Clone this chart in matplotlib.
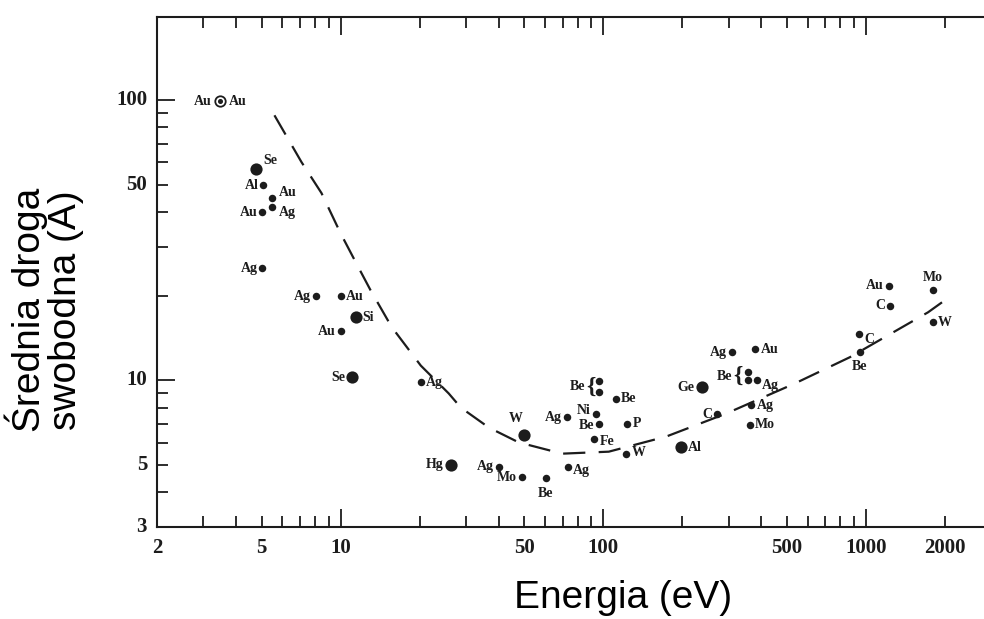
import matplotlib
matplotlib.use("Agg")
import matplotlib.pyplot as plt
from matplotlib.ticker import NullFormatter

# --- dane (energia w eV, droga swobodna w A) ---
small_elem = ["Al", "Au", "Ag", "Au", "Ag", "Ag", "Au", "Au", "Ag", "Ag",
              "Mo", "Be", "Ag", "Ag", "Ni", "Be", "Fe", "P", "Be", "Be",
              "Be", "W", "Ag", "Au", "Be", "Be", "Ag", "Ag", "Mo", "C",
              "C", "Be", "Au", "C", "Mo", "W"]
small_energy = [5.08, 5.46, 5.46, 5.04, 5.04, 8.03, 10.0, 10.0, 20.2, 40.1,
                49.1, 60.5, 73.5, 72.9, 94.0, 96.6, 92.5, 123.6, 112.0, 96.6,
                96.6, 122.6, 310.0, 380.0, 357.0, 357.0, 384.0, 367.0, 362.0, 272.0,
                940.0, 950.0, 1225.0, 1235.0, 1803.0, 1803.0]
small_mfp = [49.7, 44.7, 41.5, 39.8, 25.1, 20.0, 20.0, 15.0, 9.84, 4.93,
             4.51, 4.48, 4.93, 7.38, 7.62, 7.0, 6.16, 7.0, 8.62, 9.92,
             9.06, 5.48, 12.6, 12.9, 10.7, 10.0, 10.0, 8.15, 6.96, 7.56,
             14.7, 12.6, 21.8, 18.5, 21.0, 16.1]

big_elem = ["Se", "Si", "Se", "Hg", "W", "Ge", "Al"]
big_energy = [4.78, 11.4, 11.1, 26.3, 49.9, 237.0, 197.0]
big_mfp = [57.0, 16.8, 10.25, 5.0, 6.37, 9.44, 5.77]

ring_energy = [3.48]
ring_mfp = [99.0]

curve_energy = [5.6, 7.10, 8.46, 10.0, 11.7, 13.0, 15.66, 20.2, 25.8, 28.7,
                36.7, 47.7, 69.8, 105, 174, 294, 536, 869, 1725, 1950]
curve_mfp = [88.3, 60.1, 46.6, 33.5, 25.3, 21.0, 15.5, 11.3, 8.99, 8.0,
             6.79, 6.01, 5.48, 5.57, 6.31, 7.62, 9.75, 12.1, 17.5, 19.0]

x_tick_labels = {2: "2", 5: "5", 10: "10", 50: "50", 100: "100",
                 500: "500", 1000: "1000", 2000: "2000"}
y_tick_labels = {3: "3", 5: "5", 10: "10", 50: "50", 100: "100"}

# przesunięcia etykiet w pikselach (dx, dy, ha); None = brak etykiety
L, R = (-5, 0, "right"), (5, 0, "left")
small_off = [L, (7, 6, "left"), (7, -5, "left"), L, L, L, R, L, R, L,
             L, (0, -15, "center"), (5, -4, "left"), L, (-5, 3, "right"),
             (-5, -2, "right"), (5, -2, "left"), R, R, None,
             None, (5, 1, "left"), L, R, None, None, (5, -5, "left"), R, R, L,
             (6, -6, "left"), (0, -14, "center"), L, L, (0, 13, "center"), R]
big_off = [(7, 8, "left"), (7, 0, "left"), (-7, 0, "right"), (-7, 0, "right"),
           (-8, 17, "center"), (-7, 0, "right"), (7, 0, "left")]

ink = "#1c1c1c"
serif = ["Liberation Serif", "DejaVu Serif"]
px = 0.72  # piksel -> punkt przy dpi=100

fig = plt.figure(figsize=(9.84, 6.19), dpi=100)
ax = fig.add_axes([157 / 984, 92 / 619, 827 / 984, 510 / 619])
ax.set_xscale("log")
ax.set_yscale("log")
ax.set_xlim(2, 2818)
ax.set_ylim(3, 198)

# krzywa uniwersalna
ax.plot(curve_energy, curve_mfp, color=ink, lw=1.6, linestyle=(0, (10, 6)))

ax.plot(small_energy, small_mfp, "o", color=ink, ms=5.4, mec="none")
ax.plot(big_energy, big_mfp, "o", color=ink, ms=8.8, mec="none")
ax.plot(ring_energy, ring_mfp, "o", mfc="white", mec=ink, mew=1.3, ms=7.5)
ax.plot(ring_energy, ring_mfp, "o", color=ink, ms=2.6)


def label(text, x, y, off, size=10):
    if off is None:
        return
    dx, dy, ha = off
    ax.annotate(text, (x, y), xytext=(dx * px, dy * px), textcoords="offset points",
                ha=ha, va="center", fontsize=size, family=serif,
                fontweight="bold", color=ink)


for e, x, y, o in zip(small_elem, small_energy, small_mfp, small_off):
    label(e, x, y, o)
for e, x, y, o in zip(big_elem, big_energy, big_mfp, big_off):
    label(e, x, y, o)
label("Au", ring_energy[0], ring_mfp[0], (-9, 0, "right"))
label("Au", ring_energy[0], ring_mfp[0], (9, 0, "left"))

# nawiasy klamrowe dla grup Be
for x, y in [(96.6, 9.48), (352.0, 10.35)]:
    label("{", x, y, (-4, 0, "right"), size=17)
    label("Be", x, y, (-14, 0, "right"))

# osie
for side in ["left", "bottom", "top"]:
    ax.spines[side].set_linewidth(1.5)
    ax.spines[side].set_color(ink)
ax.spines["right"].set_visible(False)

ax.set_xticks([10, 100, 1000])
ax.set_xticks([3, 4, 5, 6, 7, 8, 9, 20, 30, 40, 50, 60, 70, 80, 90,
               200, 300, 400, 500, 600, 700, 800, 900, 2000], minor=True)
ax.set_yticks([10, 100])
ax.set_yticks([3, 4, 5, 6, 7, 8, 9, 20, 30, 40, 50, 60, 70, 80, 90], minor=True)

ax.xaxis.set_major_formatter(NullFormatter())
ax.xaxis.set_minor_formatter(NullFormatter())
ax.yaxis.set_major_formatter(NullFormatter())
ax.yaxis.set_minor_formatter(NullFormatter())

ax.tick_params(which="both", direction="in", top=True, right=False,
               color=ink, width=1.3)
ax.tick_params(which="major", length=13)
ax.tick_params(which="minor", length=8)

for v, t in x_tick_labels.items():
    ax.text(v, -0.042, t, transform=ax.get_xaxis_transform(), ha="center", va="center",
            fontsize=15, family=serif, fontweight="bold", color=ink)
for v, t in y_tick_labels.items():
    ax.text(-0.012, v, t, transform=ax.get_yaxis_transform(), ha="right", va="center",
            fontsize=15, family=serif, fontweight="bold", color=ink)

fig.text(44 / 984, 1 - 310 / 619, "Średnia droga\nswobodna (A)", rotation=90,
         ha="center", va="center", fontsize=28, linespacing=1.0,
         family=["Liberation Sans", "DejaVu Sans"])
fig.text(623 / 984, 1 - 598 / 619, "Energia (eV)", ha="center", va="center",
         fontsize=28, family=["Liberation Sans", "DejaVu Sans"])

fig.savefig("out.png", dpi=100)
